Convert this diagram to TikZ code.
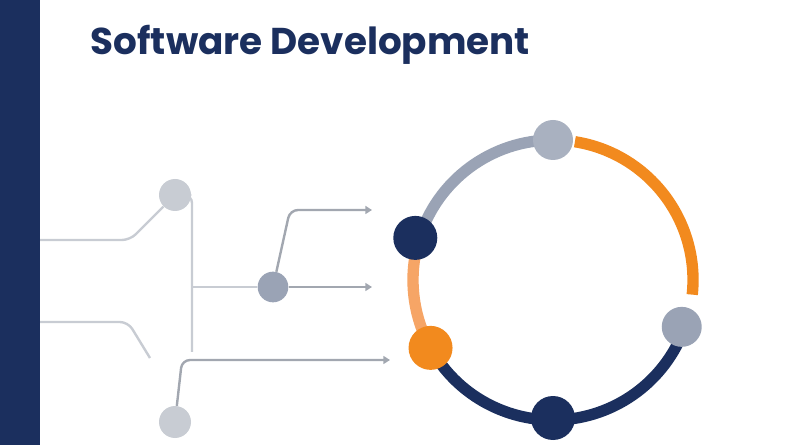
\documentclass[tikz,border=0pt]{standalone}
\usepackage{fontspec}
\setsansfont{Poppins}
\usetikzlibrary{arrows.meta,positioning}
\definecolor{navy}{HTML}{1B2F5E}
\definecolor{slate}{HTML}{9AA3B5}
\definecolor{orng}{HTML}{F28A1E}
\definecolor{lorng}{HTML}{F6A566}
\definecolor{wire}{HTML}{C8CCD3}
\definecolor{wiredark}{HTML}{A2A7B0}

\tikzset{
  dot/.style={circle,inner sep=0pt,minimum size=#1},
  ring/.style={line width=8.5pt},
  wireline/.style={draw=wire,line width=1.8pt,rounded corners=6pt},
  flowline/.style={draw=wiredark,line width=1.8pt,rounded corners=6pt,-{Triangle[length=5pt,width=6pt]}}
}

\begin{document}
\begin{tikzpicture}[x=0.75pt,y=-0.75pt]
    \useasboundingbox (0,0) rectangle (800,445);
    \fill[navy] (0,0) rectangle (40,445);
    \node[anchor=base west,text=navy,font=\sffamily\bfseries\fontsize{28}{32}\selectfont]
      (title) at (86,55) {Software Development};

    % ring (y axis points down, so angles run clockwise)
    \coordinate (centre) at (553,280);
    \draw[ring,slate] (centre) ++(-90:140) arc[start angle=-90,end angle=-163,radius=140];
    \draw[ring,lorng] (centre) ++(-163:140) arc[start angle=-163,end angle=-209,radius=140];
    \draw[ring,navy] (centre) ++(-209:140) arc[start angle=-209,end angle=-340,radius=140];
    \draw[ring,orng] (centre) ++(-81:140) arc[start angle=-81,end angle=6,radius=140];

    \node[dot=30pt,fill=slate!85] (top) at ([shift={(-90:140)}] centre) {};
    \node[dot=33pt,fill=navy] (left) at ([shift={(-163:144)}] centre) {};
    \node[dot=33pt,fill=orng] (low) at ([shift={(-209:140)}] centre) {};
    \node[dot=33pt,fill=navy] (bottom) at ([shift={(-270:138)}] centre) {};
    \node[dot=30pt,fill=slate] (right) at ([shift={(-340:137)}] centre) {};

    % branching wires
    \node[dot=24pt,fill=wire] (hubA) at (175,195) {};
    \node[dot=23pt,fill=slate] (hubB) at (273,287) {};
    \node[dot=24pt,fill=wire] (hubC) at (175,422) {};
    \coordinate (inA) at (40,240);
    \coordinate (inB) at (40,322);
    \coordinate (fadeB) at (150,358);
    \coordinate (trunk) at (192,352);
    \coordinate (outA) at (372,210);
    \coordinate (outB) at (372,287);
    \coordinate (outC) at (390,360);

    \draw[wireline] (inA) -- (130,240) -- (hubA);
    \draw[wireline] (inB) -- (128,322) -- (fadeB);
    \draw[wireline] (hubA.east) -- (192,195) -- (trunk);
    \draw[wireline] (192,287) -- (hubB);
    \draw[flowline] (hubB) -- (outB);
    \draw[flowline] (hubB) -- (290,210) -- (outA);
    \draw[flowline] (hubC) -- (182,360) -- (outC);
\end{tikzpicture}
\end{document}
